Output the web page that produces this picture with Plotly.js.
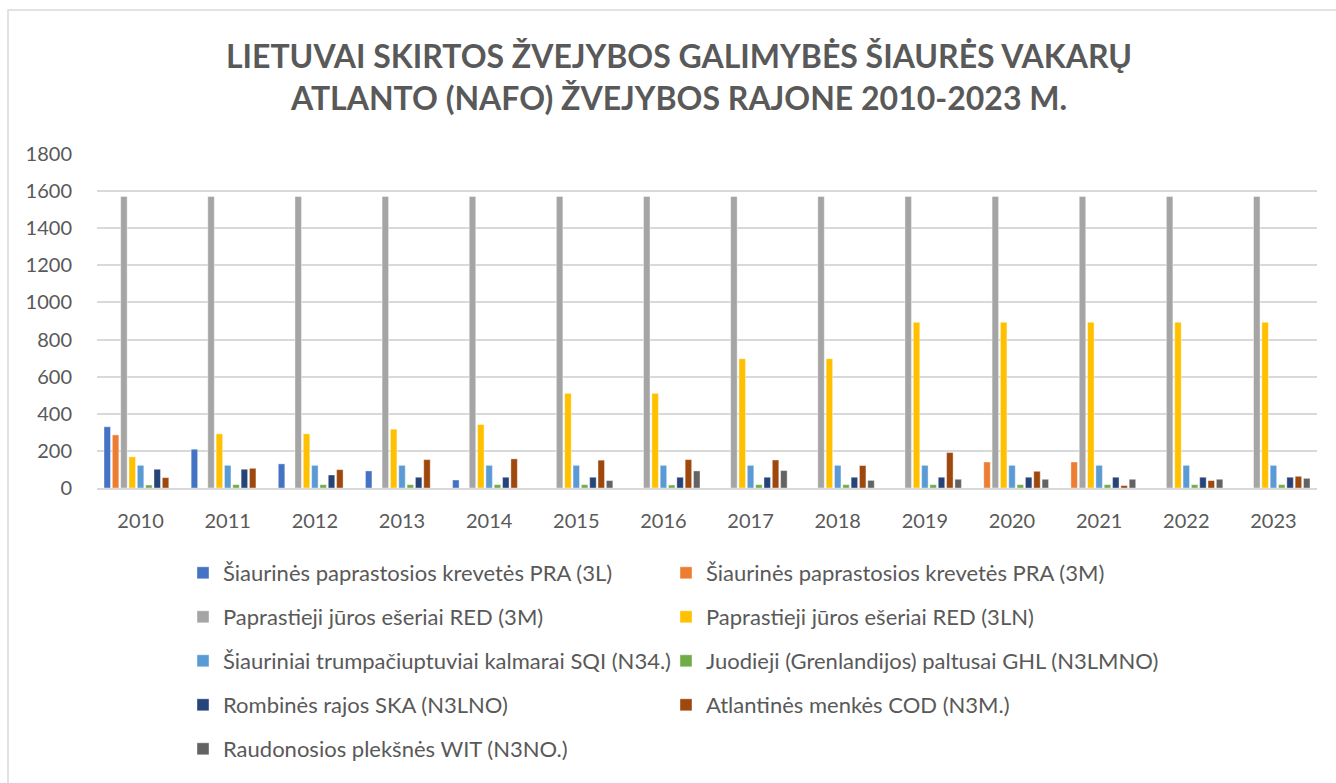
<!DOCTYPE html>
<html>
<head>
<meta charset="utf-8">
<script src="https://cdn.plot.ly/plotly-3.0.1.min.js"></script>
<style>html,body{margin:0;padding:0;background:#fff;}#chart{width:1336px;height:783px;}</style>
</head>
<body>
<div id="chart"></div>
<script>
const years = ['2010','2011','2012','2013','2014','2015','2016','2017','2018','2019','2020','2021','2022','2023'];

const seriesNames = [
  'Šiaurinės paprastosios krevetės PRA (3L)',
  'Šiaurinės paprastosios krevetės PRA (3M)',
  'Paprastieji jūros ešeriai RED (3M)',
  'Paprastieji jūros ešeriai RED (3LN)',
  'Šiauriniai trumpačiuptuviai kalmarai SQI (N34.)',
  'Juodieji (Grenlandijos) paltusai GHL (N3LMNO)',
  'Rombinės rajos SKA (N3LNO)',
  'Atlantinės menkės COD (N3M.)',
  'Raudonosios plekšnės WIT (N3NO.)'
];

const pra3L = [330, 209, 130, 92, 43, null, null, null, null, null, null, null, null, null];
const pra3M = [286, null, null, null, null, null, null, null, null, null, 140, 140, null, null];
const red3M = [1571, 1571, 1571, 1571, 1571, 1571, 1571, 1571, 1571, 1571, 1571, 1571, 1571, 1571];
const red3LN = [168, 292, 292, 317, 342, 510, 510, 697, 697, 893, 893, 893, 893, 893];
const sqi = [122, 122, 122, 122, 122, 122, 122, 122, 122, 122, 122, 122, 122, 122];
const ghl = [16, 18, 18, 18, 18, 18, 16, 18, 18, 18, 18, 18, 18, 18];
const ska = [101, 101, 70, 58, 58, 58, 58, 58, 58, 58, 58, 58, 58, 58];
const cod = [56, 106, 99, 153, 157, 150, 153, 151, 121, 191, 90, 13, 40, 63];
const wit = [null, null, null, null, null, 40, 92, 94, 41, 47, 47, 47, 47, 52];

const seriesValues = [pra3L, pra3M, red3M, red3LN, sqi, ghl, ska, cod, wit];
const colors = ['#4472C4', '#ED7D31', '#A5A5A5', '#FFC000', '#5B9BD5', '#70AD47', '#264478', '#9E480E', '#636363'];

// legend placement (pixels in 1336x783 container)
const W = 1336, H = 783;
const legendCols = [183, 666];
const legendRows = [573, 617, 661, 705, 749];

const traces = seriesNames.map((name, i) => ({
  type: 'bar',
  name: name,
  x: years,
  y: seriesValues[i],
  marker: {color: colors[i], line: {color: 'rgba(255,255,255,0.5)', width: 0.8}},
  legend: i === 0 ? 'legend' : 'legend' + (i + 1),
  showlegend: true,
  hoverinfo: 'x+y+name'
}));

const layout = {
  width: W, height: H,
  showlegend: true,
  paper_bgcolor: '#ffffff',
  plot_bgcolor: '#ffffff',
  font: {family: 'Lato, "Open Sans", sans-serif', color: '#595959', size: 20},
  title: {
    text: '<b>LIETUVAI SKIRTOS ŽVEJYBOS GALIMYBĖS ŠIAURĖS VAKARŲ<br>ATLANTO (NAFO) ŽVEJYBOS RAJONE 2010-2023 M.</b>',
    font: {family: 'Lato, "Open Sans", sans-serif', size: 32, color: '#595959'},
    x: 679 / W, xanchor: 'center', xref: 'container',
    y: 1 - 68 / H, yanchor: 'middle', yref: 'container'
  },
  margin: {l: 97, r: 19, t: 154, b: 295},
  bargap: 0.14,
  bargroupgap: 0.22,
  barmode: 'group',
  xaxis: {
    type: 'category',
    showgrid: false,
    showline: true, linecolor: '#D9D9D9', linewidth: 1.5,
    ticks: 'outside', ticklen: 14, tickcolor: 'rgba(0,0,0,0)',
    tickfont: {size: 20, color: '#595959'},
    zeroline: false
  },
  yaxis: {
    range: [0, 1800],
    dtick: 200,
    showgrid: true, gridcolor: '#D9D9D9', gridwidth: 1.5,
    zeroline: false, showline: false,
    ticks: 'outside', ticklen: 20, tickcolor: 'rgba(0,0,0,0)',
    tickfont: {size: 20, color: '#595959'},
    fixedrange: true
  },
  shapes: [{
    type: 'rect', xref: 'paper', yref: 'paper',
    x0: (8 - 97) / 1220, x1: (1340 - 97) / 1220,
    y0: (488 - 800) / 334, y1: (488 - 10) / 334,
    line: {color: '#D9D9D9', width: 1.5}, fillcolor: 'rgba(0,0,0,0)', layer: 'below'
  }]
};

seriesNames.forEach((n, i) => {
  const key = i === 0 ? 'legend' : 'legend' + (i + 1);
  const row = Math.floor(i / 2), col = i % 2;
  layout[key] = {
    visible: true,
    xref: 'container', yref: 'container',
    x: legendCols[col] / W, y: 1 - legendRows[row] / H,
    xanchor: 'left', yanchor: 'middle',
    orientation: 'h',
    bgcolor: 'rgba(0,0,0,0)',
    font: {size: 22, color: '#595959', family: 'Lato, "Open Sans", sans-serif'},
    itemclick: false, itemdoubleclick: false
  };
});

Plotly.newPlot('chart', traces, layout, {displayModeBar: false, responsive: false});
</script>
</body>
</html>
